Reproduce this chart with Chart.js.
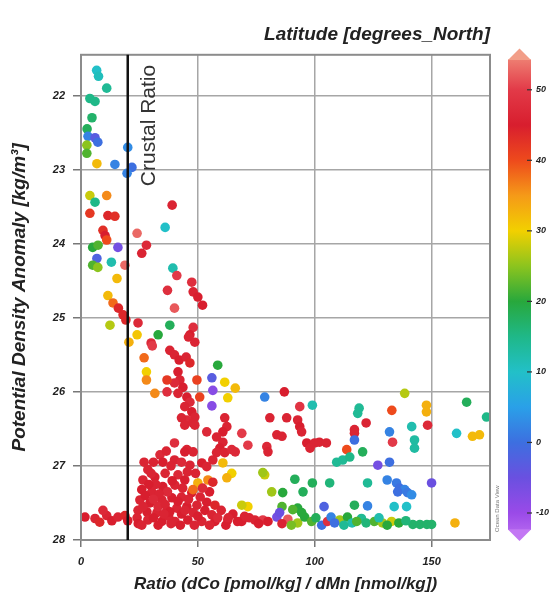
<!DOCTYPE html>
<html>
<head>
<meta charset="utf-8">
<script src="https://cdn.jsdelivr.net/npm/chart.js@4"></script>
<style>
  html, body { margin: 0; padding: 0; background: #fff; }
</style>
</head>
<body>
<canvas id="ratioChart" width="556" height="603"></canvas>
<script>
// dCo/dMn ratio (x), potential density anomaly (y), latitude (colour)
const ratio = [
  6.7, 7.5, 11, 3.8, 6, 4.7, 2.6, 3, 6, 7.2,
  2.5, 2.5, 6.8, 14.5, 20, 21.8, 19.7, 3.8, 11, 6,
  3.8, 11.5, 14.5, 39, 36, 9.4, 10.3, 11, 24, 5,
  7.3, 15.8, 28, 26, 6.8, 5, 7.2, 13, 18.8, 39.3,
  41, 15.4, 47.4, 37, 48, 50, 52, 40, 11.5, 13.7,
  16, 18, 19.2, 12.4, 24.4, 38, 48, 24, 33, 46.6,
  30, 20.5, 46, 48.7, 30.5, 27, 38, 40, 42, 45,
  46.6, 58.5, 28, 28, 41.5, 42.3, 40, 43.6, 41.5, 45.3,
  46.6, 44.4, 47.4, 48.7, 45.3, 47.9, 36.8, 49.6, 36.8, 56,
  61.5, 66, 56.4, 62.8, 50.8, 56, 78.6, 31.6, 80.8, 43,
  44.4, 48.7, 87, 93.6, 88, 92.7, 93.6, 94.4, 83.8, 86,
  79.5, 80, 96.6, 68.8, 71.4, 61.5, 62.4, 60.7, 53.8, 58,
  60.7, 59.4, 58, 61.5, 66, 40, 45.3, 48, 56.4, 99,
  119, 118.4, 133, 138.5, 147.8, 147.8, 165, 173.5, 160.7, 167.5,
  170.5, 122, 117, 117, 117, 132, 133.3, 141.5, 148.3, 142.7,
  142.7, 100, 102, 105, 98, 113.7, 109.4, 112, 115, 120.5,
  127, 132, 78.6, 91.5, 99, 106.4, 122.6, 131, 135, 136.3,
  138.5, 139.7, 141.5, 135.5, 150, 81.6, 86.3, 95, 86, 92.7,
  104, 117, 122.6, 134, 139.3, 77.8, 83.8, 88.5, 92.7, 95.7,
  98.7, 103, 105.5, 107, 110.7, 114, 116, 120, 122, 125.6,
  129, 132.9, 136, 142, 145, 148, 150, 160, 1.7, 6,
  8, 11, 13.2, 15.8, 18.8, 20, 9.4, 33.8, 28.6, 40,
  44.4, 46.6, 51.7, 53.8, 26.5, 31.6, 36, 41.5, 26, 30.3,
  35, 40.2, 44.4, 25.2, 29.5, 34.6, 38.9, 43, 47.4, 24.4,
  28.2, 32.5, 36.8, 41, 45.3, 49.6, 53.8, 57.3, 28.6, 34.6,
  40.2, 45.7, 51.7, 57.3, 62.8, 68.8, 74.4, 80, 60.7, 64.5,
  62.4, 54.3, 50, 56.4, 47.9, 71.4, 64.5, 68.8, 77.8, 85,
  90.6, 94.4, 24, 31, 37.5, 43, 48, 53, 60, 65,
  70, 33, 37, 32, 27.5, 38.5, 49, 31, 43, 36.5,
  24.5, 86, 55, 62, 42.5, 27, 35, 30, 39, 43.5,
  29, 33.5, 41.5, 46, 51, 55, 26.5, 31, 36, 38,
  44.5, 50, 56, 63, 67, 72, 76, 26, 33, 38.5,
  48.5, 58.5, 52, 45.5, 35.5, 100.5, 112.5, 118, 127.5, 131,
  139, 108.5, 90
];
const density = [
  21.66, 21.74, 21.9, 22.04, 22.08, 22.3, 22.45, 22.55, 22.57, 22.63,
  22.67, 22.78, 22.92, 22.93, 22.7, 22.97, 23.05, 23.35, 23.35, 23.44,
  23.59, 23.62, 23.63, 23.48, 23.78, 23.82, 23.89, 23.95, 23.86, 24.05,
  24.02, 24.05, 24.02, 24.13, 24.2, 24.29, 24.32, 24.25, 24.29, 24.33,
  24.43, 24.47, 24.52, 24.63, 24.65, 24.72, 24.83, 24.87, 24.7, 24.8,
  24.87, 24.96, 25.03, 25.1, 25.07, 25.1, 25.13, 25.23, 25.23, 25.23,
  25.34, 25.33, 25.26, 25.33, 25.38, 25.54, 25.44, 25.5, 25.57, 25.53,
  25.61, 25.64, 25.73, 25.84, 25.73, 25.84, 25.88, 25.94, 26.02, 26.07,
  26.14, 26.2, 26.27, 26.34, 26.38, 26.42, 25.84, 25.84, 26.0, 25.81,
  25.87, 25.95, 25.98, 26.08, 26.07, 26.19, 26.07, 26.02, 26.35, 26.35,
  26.45, 26.45, 26.0, 26.2, 26.35, 26.38, 26.47, 26.54, 26.58, 26.6,
  26.74, 26.81, 26.69, 26.56, 26.72, 26.35, 26.47, 26.54, 26.54, 26.61,
  26.68, 26.76, 26.82, 26.82, 26.81, 26.69, 26.78, 26.81, 26.92, 26.18,
  26.22, 26.29, 26.25, 26.02, 26.18, 26.27, 26.14, 26.34, 26.56, 26.6,
  26.58, 26.42, 26.51, 26.56, 26.65, 26.54, 26.68, 26.47, 26.45, 26.65,
  26.76, 26.69, 26.68, 26.69, 26.76, 26.78, 26.95, 26.92, 26.88, 26.81,
  26.99, 26.95, 27.12, 27.18, 27.23, 27.23, 27.23, 27.19, 27.23, 27.3,
  27.32, 27.36, 27.39, 27.35, 27.23, 27.35, 27.36, 27.35, 27.55, 27.57,
  27.55, 27.53, 27.54, 27.55, 27.55, 27.73, 27.69, 27.72, 27.77, 27.69,
  27.75, 27.8, 27.75, 27.69, 27.73, 27.69, 27.77, 27.71, 27.77, 27.75,
  27.77, 27.75, 27.77, 27.79, 27.79, 27.79, 27.79, 27.77, 27.69, 27.71,
  27.76, 27.67, 27.74, 27.69, 27.67, 27.74, 27.6, 26.85, 27.05, 26.92,
  26.81, 26.99, 26.96, 27.01, 27.19, 27.15, 27.1, 27.12, 27.32, 27.35,
  27.28, 27.26, 27.19, 27.46, 27.5, 27.46, 27.43, 27.42, 27.36, 27.6,
  27.62, 27.63, 27.6, 27.57, 27.55, 27.53, 27.49, 27.53, 27.73, 27.75,
  27.75, 27.73, 27.75, 27.75, 27.73, 27.75, 27.73, 27.75, 26.96, 27.1,
  27.16, 27.19, 27.23, 27.22, 27.32, 27.55, 26.78, 27.53, 27.09, 27.63,
  27.59, 27.63, 27.7, 27.7, 27.68, 27.65, 27.63, 27.6, 27.6, 27.65,
  27.68, 27.55, 27.35, 27.25, 27.4, 27.0, 27.1, 26.95, 26.95, 26.8,
  27.78, 27.78, 27.8, 27.8, 27.8, 26.95, 26.95, 27.1, 27.2, 27.3,
  27.25, 27.38, 27.48, 27.45, 27.42, 27.35, 27.55, 27.45, 27.52, 27.62,
  27.6, 27.68, 27.66, 27.7, 27.75, 27.7, 27.78, 27.8, 27.8, 27.78,
  27.8, 27.7, 27.3, 27.08, 27.65, 27.7, 27.8, 27.75, 27.7, 27.8,
  27.74, 27.77, 27.8
];
const latitude = [
  10, 11, 14, 15, 15, 17, 18, 2, -3, 0,
  25, 22, 32, 2, 3, 0, 2, 28, 36, 15,
  42, 44, 43, 46, 10, 43, 45, 40, 53, 20,
  22, -6, 47, 46, -2, 22, 25, 12, 53, 12,
  50, 32, 48, 48, 46, 45, 45, 52, 32, 38,
  44, 44, 44, 27, 47, 18, 48, 31, 20, 45,
  47, 33, 46, 46, 50, 38, 46, 46, 45, 46,
  44, 20, 30, 36, 45, 46, 47, 45, 46, 45,
  47, 46, 45, 46, 47, 46, 42, 41, 48, -3,
  30, 32, -8, 30, 41, -8, 2, 36, 46, 46,
  46, 46, 45, 49, 46, 46, 45, 46, 46, 46,
  47, 46, 45, 50, 50, 46, 46, 45, 47, 46,
  46, 45, 46, 46, 47, 48, 46, 46, 46, 12,
  14, 14, 40, 27, 33, 33, 18, 15, 10, 32,
  32, 46, 46, 46, 0, 2, 50, 12, 47, 13,
  13, 46, 46, 46, 46, 40, 14, 14, 15, 18,
  -6, 0, 28, 18, 18, 16, 14, 2, 1, 0,
  2, 1, 3, 0, -5, 26, 20, 18, 22, 20,
  -2, 18, 2, 10, 10, 50, -6, 52, 26, 20,
  22, 0, 48, 2, 26, 20, 12, 14, 16, 22,
  26, 28, 20, 17, 17, 17, 17, 33, 45, 46,
  44, 46, 45, 46, 44, 45, 47, 47, 46, 46,
  45, 46, 45, 46, 46, 45, 46, 47, 45, 46,
  45, 46, 45, 46, 45, 46, 45, 46, 45, 46,
  45, 46, 45, 46, 45, 46, 45, 44, 46, 45,
  46, 45, 46, 45, 46, 45, 46, 45, 32, 30,
  33, 36, 33, 44, 38, 30, 47, 28, 26, -5,
  22, 20, 46, 45, 46, 45, 46, 45, 46, 45,
  46, 47, 47, 46, 45, 46, 46, 46, 47, 46,
  45, 46, 46, 45, 45, 46, 45, 46, 45, 46,
  45, 46, 45, 46, 46, 45, 46, 47, 46, 45,
  46, 45, 46, 46, 45, 46, 45, 46, 45, 46,
  46, 47, 47, 46, 46, 18, 14, 22, 12, 20,
  16, 0, 24
];

const xTicks = [0, 50, 100, 150];
const yTicks = [22, 23, 24, 25, 26, 27, 28];
const latTicks = [-10, 0, 10, 20, 30, 40, 50];
const crustalRatio = 20;

// ODV-like rainbow palette
const latStops = [
  [-15, [200, 124, 245]], [-10, [154, 74, 232]], [-5, [106, 80, 224]],
  [0, [61, 111, 224]], [5, [42, 160, 232]], [10, [34, 192, 200]],
  [15, [31, 184, 136]], [20, [40, 168, 60]], [25, [140, 196, 30]],
  [30, [242, 208, 0]], [35, [245, 154, 24]], [40, [238, 74, 28]],
  [45, [216, 30, 46]], [50, [226, 58, 72]], [55, [240, 136, 120]],
  [60, [246, 192, 160]]
];

function latColor(v) {
  if (v <= latStops[0][0]) return 'rgb(' + latStops[0][1] + ')';
  for (let k = 1; k < latStops.length; k++) {
    const [v1, c1] = latStops[k];
    if (v <= v1) {
      const [v0, c0] = latStops[k - 1];
      const t = (v - v0) / (v1 - v0);
      const c = c0.map((a, n) => Math.round(a + (c1[n] - a) * t));
      return 'rgb(' + c + ')';
    }
  }
  return 'rgb(' + latStops[latStops.length - 1][1] + ')';
}

const font = 'Liberation Sans, Arial, sans-serif';
const tickFont = { family: font, size: 11, weight: 'bold', style: 'italic' };
const bigTitle = { family: font, size: 19, weight: 'bold', style: 'italic' };
const xTitleFont = { family: font, size: 17, weight: 'bold', style: 'italic' };

const extras = {
  id: 'extras',
  afterDatasetsDraw(chart) {
    const { ctx, chartArea: a, scales: { x, lat } } = chart;
    ctx.save();

    // frame
    ctx.strokeStyle = '#8c8c8c';
    ctx.lineWidth = 2;
    ctx.strokeRect(a.left, a.top, a.right - a.left, a.bottom - a.top);

    // crustal ratio line + label
    const cx = x.getPixelForValue(crustalRatio);
    ctx.strokeStyle = '#111';
    ctx.lineWidth = 2.5;
    ctx.beginPath();
    ctx.moveTo(cx, a.top);
    ctx.lineTo(cx, a.bottom);
    ctx.stroke();

    ctx.save();
    ctx.translate(cx + 21, a.top + 10);
    ctx.rotate(-Math.PI / 2);
    ctx.font = '21px ' + font;
    ctx.fillStyle = '#333';
    ctx.textAlign = 'right';
    ctx.textBaseline = 'middle';
    ctx.fillText('Crustal Ratio', 0, 0);
    ctx.restore();

    // tiny ODV credit
    ctx.save();
    ctx.translate(a.right + 7, a.bottom - 8);
    ctx.rotate(-Math.PI / 2);
    ctx.font = '6px ' + font;
    ctx.fillStyle = '#777';
    ctx.textBaseline = 'middle';
    ctx.fillText('Ocean Data View', 0, 0);
    ctx.restore();

    // colour bar
    const x0 = 508, x1 = 531, xm = (x0 + x1) / 2;
    const topV = 54.3, botV = -12.4;
    const yTop = lat.getPixelForValue(topV), yBot = lat.getPixelForValue(botV);
    const g = ctx.createLinearGradient(0, yBot, 0, yTop);
    latStops.forEach(([v, c]) => {
      const t = (v - botV) / (topV - botV);
      if (t >= 0 && t <= 1) g.addColorStop(t, 'rgb(' + c + ')');
    });
    g.addColorStop(0, latColor(botV));
    g.addColorStop(1, latColor(topV));
    ctx.fillStyle = g;
    ctx.fillRect(x0, yTop, x1 - x0, yBot - yTop);

    ctx.fillStyle = latColor(57);
    ctx.beginPath();
    ctx.moveTo(x0, yTop + 0.5);
    ctx.lineTo(xm, yTop - 11);
    ctx.lineTo(x1, yTop + 0.5);
    ctx.fill();
    ctx.fillStyle = latColor(-14.5);
    ctx.beginPath();
    ctx.moveTo(x0, yBot - 0.5);
    ctx.lineTo(xm, yBot + 11);
    ctx.lineTo(x1, yBot - 0.5);
    ctx.fill();

    ctx.strokeStyle = '#333';
    ctx.lineWidth = 1.2;
    latTicks.forEach(v => {
      const ty = lat.getPixelForValue(v);
      ctx.beginPath();
      ctx.moveTo(x1 - 4, ty);
      ctx.lineTo(x1 + 1, ty);
      ctx.stroke();
    });
    ctx.restore();
  }
};

new Chart(document.getElementById('ratioChart'), {
  type: 'scatter',
  data: {
    datasets: [{
      data: ratio.map((r, i) => ({ x: r, y: density[i] })),
      backgroundColor: c => latColor(latitude[c.dataIndex]),
      borderColor: c => latColor(latitude[c.dataIndex]),
      borderWidth: 0,
      pointRadius: 4.8
    }]
  },
  options: {
    responsive: false,
    animation: false,
    devicePixelRatio: 1,
    events: [],
    layout: { padding: { left: 4, right: 0, top: 0, bottom: 0 } },
    plugins: {
      legend: { display: false },
      tooltip: { enabled: false },
      title: {
        display: true,
        text: 'Latitude [degrees_North]',
        align: 'end',
        fullSize: false,
        color: '#222',
        font: bigTitle,
        padding: { top: 23, bottom: 9 }
      }
    },
    scales: {
      x: {
        type: 'linear',
        min: 0,
        max: 175,
        afterBuildTicks: s => { s.ticks = xTicks.map(v => ({ value: v })); },
        afterFit: s => { s.height = 63; },
        grid: { color: '#a6a6a6', lineWidth: 1.5, tickLength: 7, tickColor: '#777' },
        border: { color: '#8c8c8c', width: 2 },
        ticks: { font: tickFont, color: '#222', padding: 8 },
        title: {
          display: true,
          text: 'Ratio (dCo [pmol/kg] / dMn [nmol/kg])',
          color: '#222',
          font: xTitleFont,
          padding: { top: 0, bottom: 8 }
        }
      },
      y: {
        type: 'linear',
        reverse: true,
        min: 21.45,
        max: 28,
        afterBuildTicks: s => { s.ticks = yTicks.map(v => ({ value: v })); },
        afterFit: s => { s.width = 77; },
        grid: { color: '#a6a6a6', lineWidth: 1.5, tickLength: 8, tickColor: '#777' },
        border: { color: '#8c8c8c', width: 2 },
        ticks: { font: tickFont, color: '#222', padding: 8 },
        title: {
          display: true,
          text: 'Potential Density Anomaly [kg/m³]',
          color: '#222',
          font: bigTitle,
          padding: { top: 4, bottom: 0 }
        }
      },
      lat: {
        type: 'linear',
        position: 'right',
        min: -13.83,
        max: 54.96,
        afterBuildTicks: s => { s.ticks = latTicks.map(v => ({ value: v })); },
        afterFit: s => { s.width = 66; },
        grid: { display: false, drawTicks: false },
        border: { display: false },
        ticks: { font: { family: font, size: 9, weight: 'bold', style: 'italic' }, color: '#222', padding: 46 }
      }
    }
  },
  plugins: [extras]
});
</script>
</body>
</html>
